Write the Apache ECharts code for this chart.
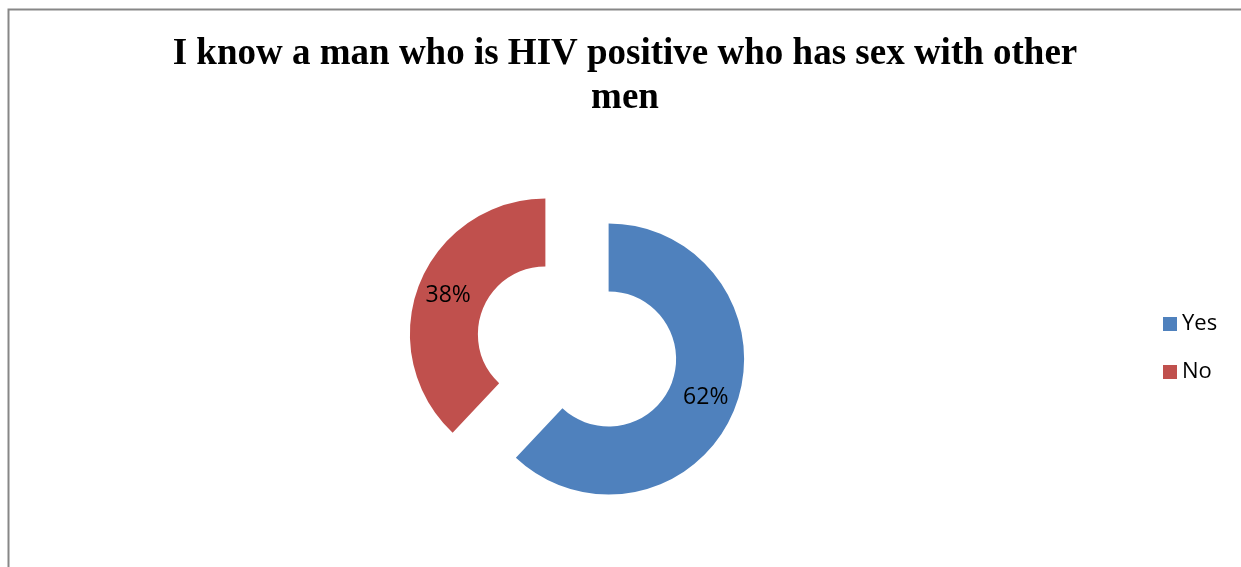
<!DOCTYPE html>
<html>
<head>
<meta charset="utf-8">
<script src="https://cdn.jsdelivr.net/npm/echarts@6/dist/echarts.min.js"></script>
<style>
  html, body { margin: 0; padding: 0; background: #fff; }
  #chart { width: 1241px; height: 567px; }
</style>
</head>
<body>
<div id="chart"></div>
<script>
// Survey answers and their shares (percent)
const categories = ['Yes', 'No'];
const shares = [62, 38];
const sliceColors = ['#4F81BD', '#C0504D'];
const chartTitle = 'I know a man who is HIV positive who has sex with other\nmen';

const chart = echarts.init(document.getElementById('chart'), null, { renderer: 'canvas' });

const pieData = categories.map((name, i) => ({
  name: name,
  value: shares[i],
  selected: true,
  itemStyle: { color: sliceColors[i] }
}));

chart.setOption({
  backgroundColor: '#ffffff',
  animation: false,
  title: {
    text: chartTitle,
    left: 620,
    top: 27,
    textAlign: 'center',
    textStyle: {
      fontFamily: 'Liberation Serif',
      fontWeight: 'bold',
      fontSize: 37,
      lineHeight: 44,
      color: '#000'
    }
  },
  legend: {
    orient: 'vertical',
    left: 1158,
    top: 307,
    itemWidth: 14,
    itemHeight: 14,
    itemGap: 24,
    selectedMode: false,
    icon: 'rect',
    data: categories,
    textStyle: {
      fontFamily: 'Open Sans',
      fontSize: 22,
      lineHeight: 24,
      color: '#000',
      padding: [0, 0, 0, 0]
    }
  },
  graphic: [{
    type: 'polyline',
    shape: { points: [[8.5, 567], [8.5, 9.5], [1241, 9.5]] },
    style: { stroke: '#878787', lineWidth: 2, fill: null },
    silent: true
  }],
  series: [{
    type: 'pie',
    center: [577, 346.5],
    radius: [67.5, 135.5],
    startAngle: 90,
    clockwise: true,
    selectedMode: 'multiple',
    selectedOffset: 34,
    avoidLabelOverlap: false,
    emphasis: { disabled: true, scale: false },
    select: {
      itemStyle: { borderWidth: 0 },
      label: { show: true }
    },
    label: {
      show: true,
      position: 'inside',
      formatter: '{c}%',
      fontFamily: 'Open Sans',
      fontSize: 23,
      color: '#000'
    },
    labelLine: { show: false },
    data: pieData
  }]
});
</script>
</body>
</html>
